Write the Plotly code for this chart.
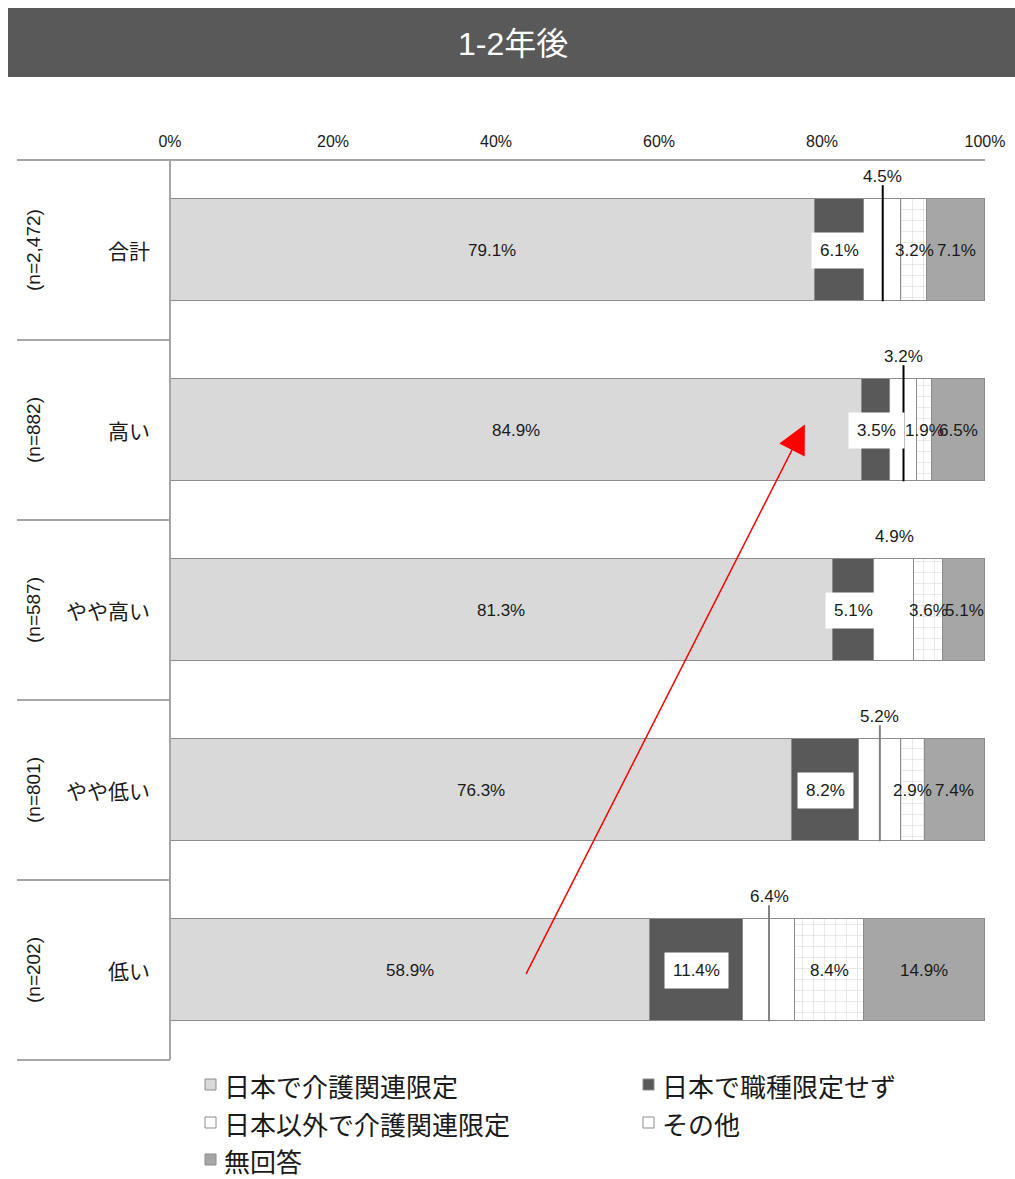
import plotly.graph_objects as go

# ---------------- data ----------------
categories = ["合計", "高い", "やや高い", "やや低い", "低い"]
n_labels = ["(n=2,472)", "(n=882)", "(n=587)", "(n=801)", "(n=202)"]
series_names = ["日本で介護関連限定", "日本で職種限定せず", "日本以外で介護関連限定", "その他", "無回答"]
s_japan_care = [79.1, 84.9, 81.3, 76.3, 58.9]
s_japan_any = [6.1, 3.5, 5.1, 8.2, 11.4]
s_abroad_care = [4.5, 3.2, 4.9, 5.2, 6.4]
s_other = [3.2, 1.9, 3.6, 2.9, 8.4]
s_noanswer = [7.1, 6.5, 5.1, 7.4, 14.9]
tick_vals = [0, 20, 40, 60, 80, 100]
tick_text = ["0%", "20%", "40%", "60%", "80%", "100%"]
title_text = "1-2年後"

# ---------------- styles ----------------
W, H = 1015, 1179
colors = ["#d9d9d9", "#595959", "#ffffff", "#ffffff", "#a6a6a6"]
leader_show = [True, True, False, True, True]
leader_color = ["#000000", "#000000", "#808080", "#808080", "#808080"]
NUM_FONT = "Liberation Sans Narrow, Arial Narrow, Liberation Sans, Arial, sans-serif"
JP_FONT = "Noto Sans CJK JP, sans-serif"
BAR_W = 0.57
TXT = "#1a1a1a"

def px_x(p):
    return p / W

def px_y(p):
    return 1 - p / H

all_series = [s_japan_care, s_japan_any, s_abroad_care, s_other, s_noanswer]
ypos = list(range(len(categories)))

fig = go.Figure()
for k, (name, vals) in enumerate(zip(series_names, all_series)):
    marker = dict(color=colors[k], line=dict(color="#8c8c8c", width=1.5))
    if k == 3:
        marker["pattern"] = dict(shape="+", fgcolor="#b0b0b0", bgcolor="#ffffff",
                                 size=11, solidity=0.1)
    fig.add_trace(go.Bar(
        x=vals, y=ypos, orientation="h", name=name, width=BAR_W,
        marker=marker, hoverinfo="skip", showlegend=False,
    ))

annotations = []
shapes = []

# data labels
for i in ypos:
    cum = 0.0
    for k, vals in enumerate(all_series):
        v = vals[i]
        mid = cum + v / 2
        txt = f"{v:.1f}%"
        font = dict(family=NUM_FONT, size=17, color=TXT)
        if k in (0, 3, 4):
            annotations.append(dict(x=mid, y=i, xref="x", yref="y", text=txt,
                                    xanchor="center", yanchor="middle",
                                    showarrow=False, font=font))
        elif k == 1:
            annotations.append(dict(x=mid, y=i, xref="x", yref="y", text=txt,
                                    xanchor="center", yanchor="middle",
                                    showarrow=False, bgcolor="#ffffff", borderpad=8,
                                    font=font))
        else:
            annotations.append(dict(x=mid, y=i - 0.41, xref="x", yref="y", text=txt,
                                    xanchor="center", yanchor="middle",
                                    showarrow=False, font=font))
            if leader_show[i]:
                shapes.append(dict(type="line", xref="x", yref="y", x0=mid, x1=mid,
                                   y0=i - BAR_W / 2 - 0.075, y1=i + BAR_W / 2,
                                   line=dict(color=leader_color[i], width=2)))
        cum += v

# left table labels
for i in ypos:
    annotations.append(dict(x=px_x(152), y=i, xref="paper", yref="y", text=categories[i],
                            showarrow=False, xanchor="right", yanchor="middle",
                            font=dict(family=JP_FONT, size=21, color=TXT)))
    annotations.append(dict(x=px_x(33), y=i, xref="paper", yref="y", text=n_labels[i],
                            showarrow=False, textangle=-90, xanchor="center", yanchor="middle",
                            font=dict(family="Liberation Sans, Arial, sans-serif", size=19, color=TXT)))

# table lines
line_style = dict(color="#a6a6a6", width=2)
shapes.append(dict(type="line", xref="paper", yref="paper", x0=px_x(17), x1=px_x(985),
                   y0=px_y(160), y1=px_y(160), line=line_style))
for p in [340, 520, 700, 880, 1060]:
    shapes.append(dict(type="line", xref="paper", yref="paper", x0=px_x(17), x1=px_x(170),
                       y0=px_y(p), y1=px_y(p), line=line_style))
shapes.append(dict(type="line", xref="paper", yref="paper", x0=px_x(170), x1=px_x(170),
                   y0=px_y(160), y1=px_y(1060), line=line_style))

# title bar
shapes.append(dict(type="rect", xref="paper", yref="paper", x0=px_x(8), x1=1.0,
                   y0=px_y(77), y1=px_y(8), fillcolor="#595959", line=dict(width=0), layer="below"))
annotations.append(dict(x=px_x(513), y=px_y(44), xref="paper", yref="paper", text=title_text,
                        showarrow=False, xanchor="center", yanchor="middle",
                        font=dict(family="Liberation Sans, Noto Sans CJK JP, sans-serif",
                                  size=32, color="#ffffff")))

# red arrow
annotations.append(dict(x=77.9, y=0.97, xref="x", yref="y", ax=43.6, ay=4.03, axref="x", ayref="y",
                        text="", showarrow=True, arrowcolor="#ff0000", arrowwidth=1.5,
                        arrowhead=2, arrowsize=3.8))

# manual legend (two columns)
legend_pos = [(205, 1085), (643, 1085), (205, 1123), (643, 1123), (205, 1160)]
for k, name in enumerate(series_names):
    lx, ly = legend_pos[k]
    shapes.append(dict(type="rect", xref="paper", yref="paper",
                       x0=px_x(lx), x1=px_x(lx + 11), y0=px_y(ly + 5), y1=px_y(ly - 6),
                       fillcolor=colors[k], line=dict(color="#8c8c8c", width=1)))
    annotations.append(dict(x=px_x(lx + 17), y=px_y(ly), xref="paper", yref="paper", text=name,
                            showarrow=False, xanchor="left", yanchor="middle",
                            font=dict(family=JP_FONT, size=26, color=TXT)))

fig.update_layout(
    width=W, height=H,
    margin=dict(l=0, r=0, t=0, b=0, autoexpand=False),
    paper_bgcolor="#ffffff", plot_bgcolor="#ffffff",
    barmode="stack", bargap=0,
    xaxis=dict(domain=[px_x(170), px_x(985)], range=[0, 100], side="top",
               tickvals=tick_vals, ticktext=tick_text, showgrid=False, zeroline=False,
               showline=False, ticks="", ticklabelstandoff=9,
               tickfont=dict(family="Liberation Sans, Arial, sans-serif", size=16, color=TXT),
               fixedrange=True),
    yaxis=dict(domain=[px_y(1060), px_y(160)], range=[4.5, -0.5], showticklabels=False,
               showgrid=False, zeroline=False, showline=False, ticks="", fixedrange=True),
    shapes=shapes, annotations=annotations,
    showlegend=False,
)

fig.write_html("out.html")
